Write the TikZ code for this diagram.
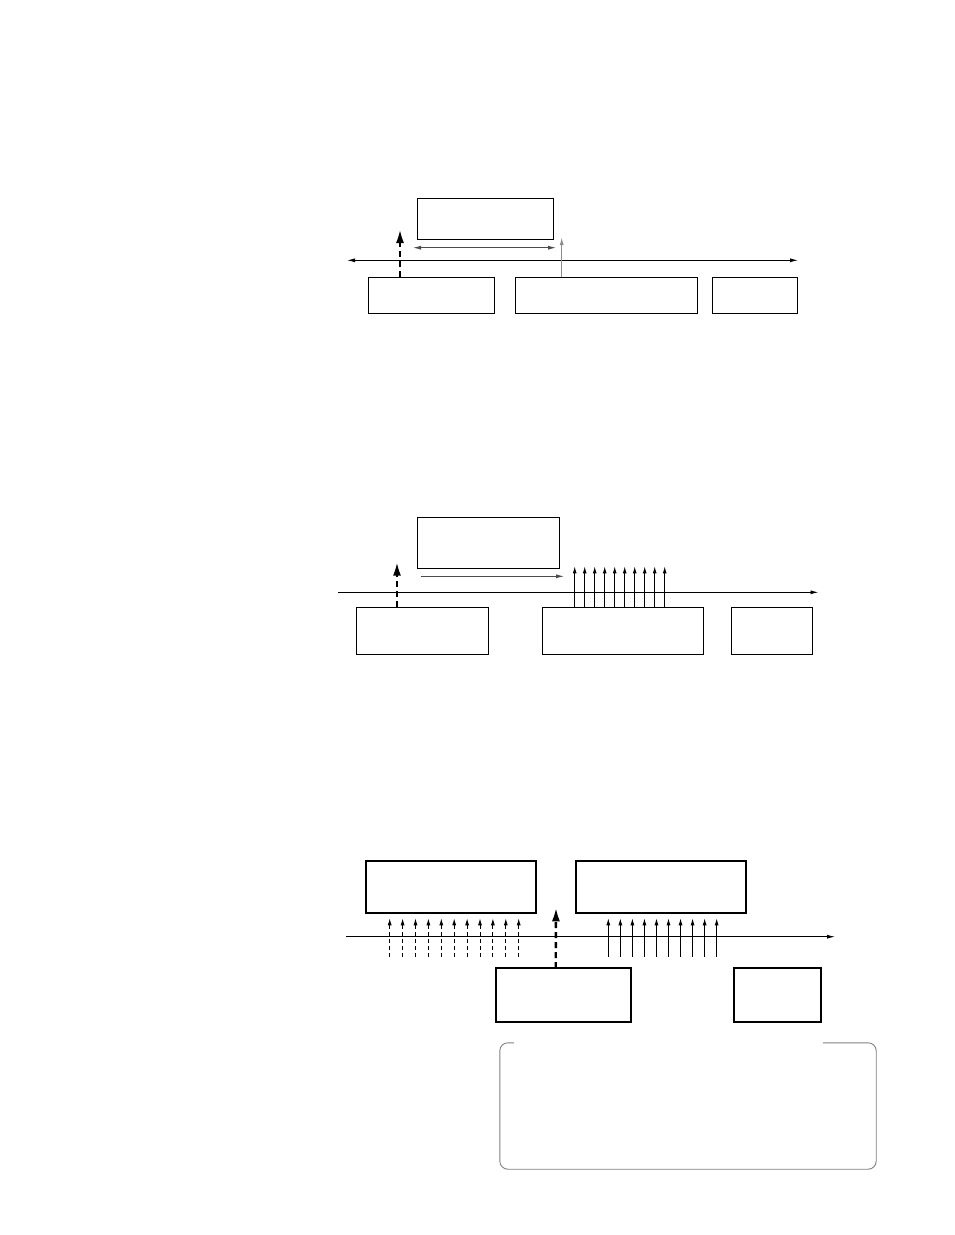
\documentclass[tikz,border=0pt]{standalone}
\usetikzlibrary{arrows.meta,calc}
\tikzset{
  box/.style={draw,rectangle,inner sep=0pt,outer sep=0pt,line width=0.9pt},
  heavybox/.style={box,line width=1.8pt},
  axis/.style={line width=0.9pt,-{Latex[length=8pt,width=4pt]}},
  biaxis/.style={line width=0.9pt,{Latex[length=8pt,width=4pt]}-{Latex[length=8pt,width=4pt]}},
  jump/.style={line width=2.4pt,dash pattern=on 6pt off 4pt,-{Latex[length=14pt,width=8pt]}},
  tick/.style={line width=0.9pt,-{Latex[length=7pt,width=4pt]}},
  dtick/.style={tick,dash pattern=on 4pt off 3pt},
  span/.style={line width=0.8pt,draw=black!70,-{Latex[length=8pt,width=4pt]}},
  bispan/.style={line width=0.8pt,draw=black!70,{Latex[length=8pt,width=4pt]}-{Latex[length=8pt,width=4pt]}},
  probe/.style={line width=1.2pt,draw=black!45,-{Latex[length=8pt,width=4pt]}},
  notebox/.style={rectangle,inner sep=0pt,minimum width=376pt,minimum height=126pt},
  noteline/.style={line width=0.9pt,draw=black!50,rounded corners=8pt}
}

\begin{document}
\begin{tikzpicture}[x=1pt,y=-1pt]
  \useasboundingbox (0,0) rectangle (954,1235);

  % first panel
  \node[box,minimum width=136pt,minimum height=41pt] (t1) at (485,218.5) {};
  \node[box,minimum width=126pt,minimum height=36pt] (a1) at (431,295) {};
  \node[box,minimum width=182pt,minimum height=36pt] (b1) at (606,295) {};
  \node[box,minimum width=85pt,minimum height=36pt] (c1) at (754.5,295) {};
  \coordinate (l1) at (347,260.3);
  \coordinate (r1) at (798,260.3);
  \draw[biaxis] (l1)--(r1);
  \coordinate (s1) at (413,247.7);
  \coordinate (e1) at (556,247.7);
  \draw[bispan] (s1)--(e1);
  \coordinate (j1) at (400,229);
  \draw[jump] ($(a1.north west)+(32,0)$)--(j1);
  \coordinate (p1) at (561.7,237);
  \draw[probe] ($(b1.north west)+(46.7,0)$)--(p1);

  % second panel
  \node[box,minimum width=142pt,minimum height=51pt] (t2) at (488,542.5) {};
  \node[box,minimum width=132pt,minimum height=47pt] (a2) at (422,630.5) {};
  \node[box,minimum width=161pt,minimum height=47pt] (b2) at (622.5,630.5) {};
  \node[box,minimum width=81pt,minimum height=47pt] (c2) at (771.5,630.5) {};
  \coordinate (l2) at (338,592.3);
  \coordinate (r2) at (818.5,592.3);
  \draw[axis] (l2)--(r2);
  \coordinate (s2) at (420.7,576.3);
  \coordinate (e2) at (564,576.3);
  \draw[span] (s2)--(e2);
  \coordinate (j2) at (397,561.7);
  \draw[jump] ($(a2.north west)+(41,0)$)--(j2);
  \foreach \i in {0,...,9}{
    \draw[tick] ($(b2.north west)+(32.7+10*\i,0)$)--($(b2.north west)+(32.7+10*\i,-40.6)$);
  }

  % third panel
  \node[heavybox,minimum width=170pt,minimum height=52pt] (t3) at (451,887) {};
  \node[heavybox,minimum width=170pt,minimum height=52pt] (u3) at (661,887) {};
  \node[heavybox,minimum width=135pt,minimum height=54pt] (a3) at (563.5,995) {};
  \node[heavybox,minimum width=87pt,minimum height=54pt] (c3) at (777.5,995) {};
  \coordinate (l3) at (346,936.7);
  \coordinate (r3) at (835,936.7);
  \draw[axis] (l3)--(r3);
  \coordinate (j3) at (556,907.3);
  \draw[jump] ($(a3.north west)+(59.7,0)$)--(j3);
  \foreach \i in {0,...,10}{
    \coordinate (d\i) at (389.7+12.9*\i,956.7);
    \draw[dtick] (d\i)--++(0,-38.4);
  }
  \foreach \i in {0,...,9}{
    \coordinate (f\i) at (608.3+12.04*\i,956.7);
    \draw[tick] (f\i)--++(0,-38.4);
  }

  \node[notebox] (note) at (688,1106) {};
  \draw[noteline] ($(note.north west)+(14,0)$) -- (note.north west) -- (note.south west)
    -- (note.south east) -- (note.north east) -- ($(note.north east)+(-53,0)$);
\end{tikzpicture}
\end{document}
